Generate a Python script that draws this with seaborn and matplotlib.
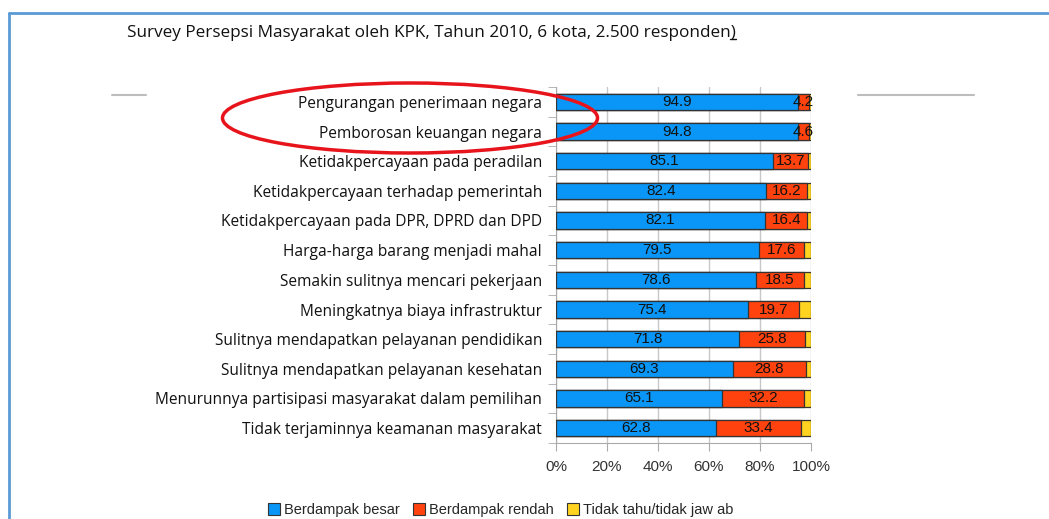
import matplotlib
matplotlib.use("Agg")
import matplotlib.pyplot as plt
import seaborn as sns
import pandas as pd
from matplotlib.patches import Ellipse, Patch
from matplotlib.lines import Line2D

# data
kategori = [
    "Pengurangan penerimaan negara",
    "Pemborosan keuangan negara",
    "Ketidakpercayaan pada peradilan",
    "Ketidakpercayaan terhadap pemerintah",
    "Ketidakpercayaan pada DPR, DPRD dan DPD",
    "Harga-harga barang menjadi mahal",
    "Semakin sulitnya mencari pekerjaan",
    "Meningkatnya biaya infrastruktur",
    "Sulitnya mendapatkan pelayanan pendidikan",
    "Sulitnya mendapatkan pelayanan kesehatan",
    "Menurunnya partisipasi masyarakat dalam pemilihan",
    "Tidak terjaminnya keamanan masyarakat",
]
besar = [94.9, 94.8, 85.1, 82.4, 82.1, 79.5, 78.6, 75.4, 71.8, 69.3, 65.1, 62.8]
rendah = [4.2, 4.6, 13.7, 16.2, 16.4, 17.6, 18.5, 19.7, 25.8, 28.8, 32.2, 33.4]
tidak_tahu = [0.9, 0.6, 1.2, 1.4, 1.5, 2.9, 2.9, 4.9, 2.4, 1.9, 2.7, 3.8]
seri = ["Berdampak besar", "Berdampak rendah", "Tidak tahu/tidak jaw ab"]
warna = ["#0a96f7", "#ff420e", "#ffd320"]

df = pd.DataFrame({"kategori": kategori, "besar": besar,
                   "rendah": rendah, "tidak": tidak_tahu})
df["c1"] = df["besar"]
df["c2"] = df["besar"] + df["rendah"]
df["c3"] = df["c2"] + df["tidak"]

sns.set_style("white")
narrow = ["Liberation Sans Narrow", "Liberation Sans", "DejaVu Sans"]

fig = plt.figure(figsize=(10.49, 5.19), dpi=100)
ax = fig.add_axes([556 / 1049, 1 - 443 / 519, 255 / 1049, 356 / 519])

for col, c in zip(["c3", "c2", "c1"], warna[::-1]):
    sns.barplot(data=df, x=col, y="kategori", color=c, orient="h", width=0.55,
                edgecolor="#333333", linewidth=0.9, saturation=1, ax=ax, zorder=3)

# angka di dalam batang
for i, r in df.iterrows():
    ax.text(r["besar"] / 2, i, f"{r['besar']:.1f}", ha="center", va="center",
            fontsize=11, family=narrow, color="#111111", zorder=5)
    ax.text(r["besar"] + r["rendah"] / 2, i, f"{r['rendah']:.1f}", ha="center",
            va="center", fontsize=11, family=narrow, color="#111111", zorder=5)

ax.set_xlim(0, 100)
ax.set_ylim(len(kategori) - 0.5, -0.5)
ax.set_xticks([0, 20, 40, 60, 80, 100])
ax.set_xticklabels(["0%", "20%", "40%", "60%", "80%", "100%"], family=narrow,
                   fontsize=11, color="#333333")
ax.set_yticks(range(len(kategori)))
ax.set_yticklabels(kategori, family="Open Sans", fontsize=11.2, color="#111111")
ax.set_yticks([i + 0.5 for i in range(-1, len(kategori))], minor=True)
ax.tick_params(axis="y", which="major", length=0, pad=10)
ax.tick_params(axis="y", which="minor", length=6, color="#aaaaaa", left=True)
ax.tick_params(axis="x", length=6, color="#aaaaaa", bottom=True, pad=6)
ax.set_xlabel("")
ax.set_ylabel("")
ax.grid(axis="x", color="#c8c8c8", linewidth=1, zorder=0)
for s in ["top", "right"]:
    ax.spines[s].set_visible(False)
for s in ["left", "bottom"]:
    ax.spines[s].set_color("#aaaaaa")

# judul
judul = fig.text(127 / 1049, 1 - 33 / 519,
                 "Survey Persepsi Masyarakat oleh KPK, Tahun 2010, 6 kota, 2.500 responden)",
                 family="Open Sans", fontsize=12.3, color="#111111", va="center")

# legenda
handles = [Patch(facecolor=c, edgecolor="#333333", linewidth=0.8) for c in warna]
fig.legend(handles, seri, loc="center", bbox_to_anchor=(501 / 1049, 1 - 510 / 519),
           ncol=3, frameon=False, prop={"family": narrow, "size": 10.5},
           handlelength=0.8, handleheight=0.8, handletextpad=0.3, columnspacing=0.9)

# elips merah
fig.add_artist(Ellipse((410 / 1049, 1 - 118 / 519), 375 / 1049, 70 / 519,
                       transform=fig.transFigure, fill=False,
                       edgecolor="#e8141c", linewidth=2.5))

# garis abu-abu dan bingkai biru
for x0, x1 in [(112, 146), (858, 974)]:
    fig.add_artist(Line2D([x0 / 1049, x1 / 1049], [1 - 95 / 519] * 2,
                          transform=fig.transFigure, color="#bdbdbd", linewidth=1.5))
fig.add_artist(Line2D([9 / 1049, 1], [1 - 13 / 519] * 2,
                      transform=fig.transFigure, color="#5b9bd5", linewidth=2))
fig.add_artist(Line2D([9 / 1049, 9 / 1049], [0, 1 - 13 / 519],
                      transform=fig.transFigure, color="#5b9bd5", linewidth=2))

# garis bawah pada ")"
fig.canvas.draw()
bb = judul.get_window_extent()
fig.add_artist(Line2D([(bb.x1 - 6) / 1049, bb.x1 / 1049],
                      [(bb.y0 + 2) / 519] * 2, transform=fig.transFigure,
                      color="#111111", linewidth=1))

fig.savefig("out.png", dpi=100)
